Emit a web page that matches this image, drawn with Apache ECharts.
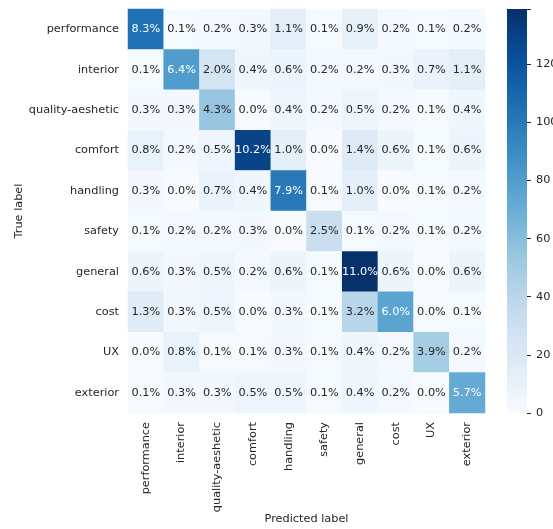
<!DOCTYPE html>
<html>
<head>
<meta charset="utf-8">
<script src="https://cdn.jsdelivr.net/npm/echarts@6/dist/echarts.min.js"></script>
<style>html,body{margin:0;padding:0;background:#fff}#c{width:553px;height:529px}</style>
</head>
<body>
<div id="c"></div>
<script>
const categories = ['performance','interior','quality-aeshetic','comfort','handling','safety','general','cost','UX','exterior'];
// rows = true label, columns = predicted label (percent of all samples)
const rowPerformance = [8.3, 0.1, 0.2, 0.3, 1.1, 0.1, 0.9, 0.2, 0.1, 0.2];
const rowInterior    = [0.1, 6.4, 2.0, 0.4, 0.6, 0.2, 0.2, 0.3, 0.7, 1.1];
const rowQuality     = [0.3, 0.3, 4.3, 0.0, 0.4, 0.2, 0.5, 0.2, 0.1, 0.4];
const rowComfort     = [0.8, 0.2, 0.5, 10.2, 1.0, 0.0, 1.4, 0.6, 0.1, 0.6];
const rowHandling    = [0.3, 0.0, 0.7, 0.4, 7.9, 0.1, 1.0, 0.0, 0.1, 0.2];
const rowSafety      = [0.1, 0.2, 0.2, 0.3, 0.0, 2.5, 0.1, 0.2, 0.1, 0.2];
const rowGeneral     = [0.6, 0.3, 0.5, 0.2, 0.6, 0.1, 11.0, 0.6, 0.0, 0.6];
const rowCost        = [1.3, 0.3, 0.5, 0.0, 0.3, 0.1, 3.2, 6.0, 0.0, 0.1];
const rowUX          = [0.0, 0.8, 0.1, 0.1, 0.3, 0.1, 0.4, 0.2, 3.9, 0.2];
const rowExterior    = [0.1, 0.3, 0.3, 0.5, 0.5, 0.1, 0.4, 0.2, 0.0, 5.7];
const colorbarMax = 139;          // count at the top of the colour bar
const colorbarTicks = [0, 20, 40, 60, 80, 100, 120];

const rows = [rowPerformance,rowInterior,rowQuality,rowComfort,rowHandling,rowSafety,rowGeneral,rowCost,rowUX,rowExterior];
const pctMax = Math.max(...rows.flat());
const blues = ['#f7fbff','#deebf7','#c6dbef','#9ecae1','#6baed6','#4292c6','#2171b5','#08519c','#08306b'];
const data = [];
rows.forEach((r, yi) => r.forEach((v, xi) => data.push([xi, yi, v])));

const font = 'DejaVu Sans';
const fs = 11.3;
const txt = '#262626';
const chart = echarts.init(document.getElementById('c'), null, {renderer: 'canvas'});
chart.setOption({
  animation: false,
  textStyle: {fontFamily: font},
  grid: [
    {left: 128, top: 9, width: 357, height: 404, containLabel: false, outerBoundsMode: 'none'},
    {left: 507, top: 9, width: 20, height: 404, containLabel: false, outerBoundsMode: 'none'}
  ],
  xAxis: [
    {type: 'category', gridIndex: 0, data: categories, position: 'bottom',
     axisLine: {show: false}, axisTick: {show: false}, splitLine: {show: false},
     axisLabel: {rotate: 90, fontSize: fs, color: txt, fontFamily: font, margin: 9, interval: 0},
     name: 'Predicted label', nameLocation: 'middle', nameGap: 101, nameMoveOverlap: false,
     nameTextStyle: {fontSize: fs, color: txt, fontFamily: font}},
    {type: 'category', gridIndex: 1, data: [''], show: false}
  ],
  yAxis: [
    {type: 'category', gridIndex: 0, data: categories, inverse: true,
     axisLine: {show: false}, axisTick: {show: false}, splitLine: {show: false},
     axisLabel: {fontSize: fs, color: txt, fontFamily: font, margin: 9, interval: 0},
     name: 'True label', nameLocation: 'middle', nameGap: 103, nameRotate: 90, nameMoveOverlap: false,
     nameTextStyle: {fontSize: fs, color: txt, fontFamily: font}},
    {type: 'value', gridIndex: 1, min: 0, max: colorbarMax, interval: 20, position: 'right',
     axisLine: {show: false}, splitLine: {show: false},
     axisTick: {show: true, length: 4, lineStyle: {color: txt}},
     axisLabel: {fontSize: fs, color: txt, fontFamily: font, margin: 9,
       formatter: v => colorbarTicks.includes(v) ? String(v) : ''}}
  ],
  visualMap: {
    type: 'continuous', show: false, seriesIndex: 0, dimension: 2,
    min: 0, max: pctMax, inRange: {color: blues}
  },
  series: [
    {type: 'heatmap', xAxisIndex: 0, yAxisIndex: 0,
     data: data.map(d => ({value: d, label: {color: d[2] > pctMax * 0.47 ? '#ffffff' : txt}})),
     label: {show: true, fontSize: fs, fontFamily: font,
       formatter: p => p.value[2].toFixed(1) + '%'},
     emphasis: {disabled: true}},
    {type: 'bar', xAxisIndex: 1, yAxisIndex: 1, data: [colorbarMax], barWidth: '100%',
     silent: true,
     itemStyle: {color: new echarts.graphic.LinearGradient(0, 1, 0, 0,
       blues.map((c, i) => ({offset: i / (blues.length - 1), color: c})))}}
  ]
});
</script>
</body>
</html>
